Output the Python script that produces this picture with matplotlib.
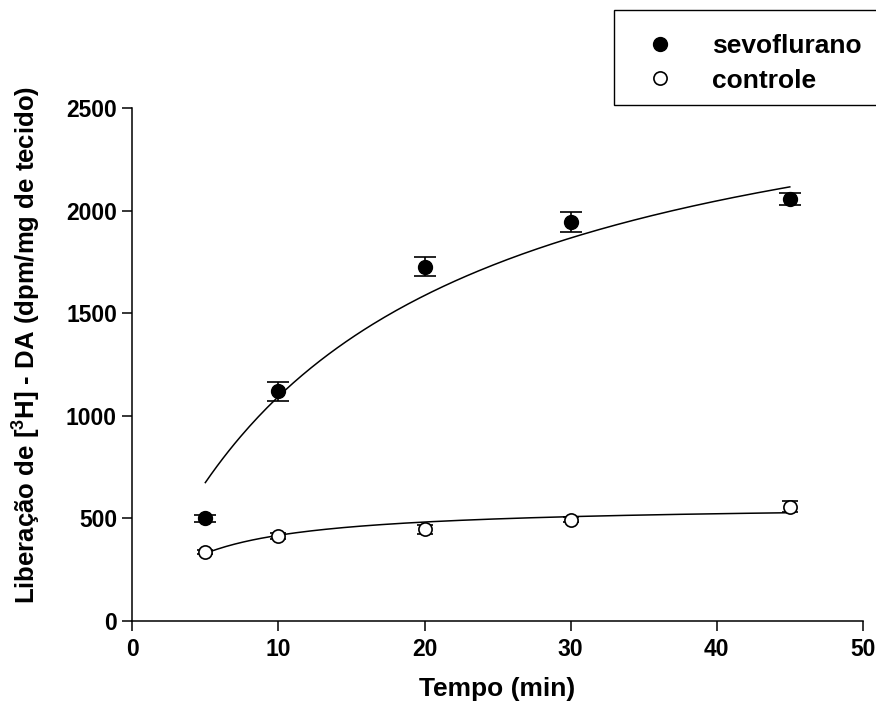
import matplotlib.pyplot as plt
import numpy as np
from matplotlib.patches import Rectangle
from matplotlib.lines import Line2D

plt.rcParams['font.family'] = ['Liberation Sans', 'DejaVu Sans']
plt.rcParams['font.weight'] = 'bold'
plt.rcParams['mathtext.fontset'] = 'custom'
plt.rcParams['mathtext.rm'] = 'Liberation Sans:bold'
plt.rcParams['mathtext.bf'] = 'Liberation Sans:bold'

# dados
tempo = [5, 10, 20, 30, 45]
sevo = [500, 1120, 1727, 1946, 2056]
sevo_err = [15, 47, 47, 48, 30]
ctrl = [338, 415, 448, 495, 558]
ctrl_err = [10, 14, 22, 14, 26]

# parametros da hiperbole ajustada y = a*x/(b+x)
sevo_fit = (2886, 16.38)
ctrl_fit = (571, 3.66)


def hyper(x, a, b):
    return a * x / (b + x)


fig = plt.figure(figsize=(8.76, 7.09), dpi=100)
ax = fig.add_axes([0.151, 0.124, 0.834, 0.7236])

xf = np.linspace(tempo[0], tempo[-1], 200)
ax.plot(xf, hyper(xf, *sevo_fit), color='black', linewidth=1.1)
ax.plot(xf, hyper(xf, *ctrl_fit), color='black', linewidth=1.1)

ax.errorbar(tempo, sevo, yerr=sevo_err, fmt='o', color='black', markersize=10,
            capsize=8, elinewidth=1.2, capthick=1.2, zorder=3)
ax.errorbar(tempo, ctrl, yerr=ctrl_err, fmt='o', color='black', markerfacecolor='white',
            markersize=9.5, markeredgewidth=1.2, capsize=6, elinewidth=1.2,
            capthick=1.2, zorder=3)

ax.set_xlim(0, 50)
ax.set_ylim(0, 2500)
ax.set_xticks([0, 10, 20, 30, 40, 50])
ax.set_yticks([0, 500, 1000, 1500, 2000, 2500])
ax.spines['top'].set_visible(False)
ax.spines['right'].set_visible(False)
ax.spines['left'].set_linewidth(1.1)
ax.spines['bottom'].set_linewidth(1.1)
ax.tick_params(direction='out', length=7, width=1.1, labelsize=16.5)
ax.tick_params(axis='y', pad=4)
ax.tick_params(axis='x', pad=5)
for lab in ax.get_xticklabels() + ax.get_yticklabels():
    lab.set_fontweight('bold')

ax.set_xlabel('Tempo (min)', fontsize=19, fontweight='bold', labelpad=12)
ax.set_ylabel(r'Liberação de [$^{3}$H] - DA (dpm/mg de tecido)', fontsize=18.5,
              fontweight='bold')
ax.yaxis.set_label_coords(-0.123, 0.538)

# legenda
fig.patches.append(Rectangle((614 / 876, 1 - 105 / 709), 0.4, 95 / 709,
                             transform=fig.transFigure, facecolor='white',
                             edgecolor='black', linewidth=1.0))
handles = [Line2D([], [], marker='o', linestyle='none', color='black', markersize=10),
           Line2D([], [], marker='o', linestyle='none', color='black',
                  markerfacecolor='white', markersize=9.5, markeredgewidth=1.2)]
fig.legend(handles, ['sevoflurano', 'controle'], loc='upper left',
           bbox_to_anchor=(634 / 876, 1 - 34 / 709), frameon=False,
           prop={'size': 19, 'weight': 'bold'}, handletextpad=0.95,
           labelspacing=0.4, borderpad=0, borderaxespad=0)

fig.savefig('out.png', dpi=100)
